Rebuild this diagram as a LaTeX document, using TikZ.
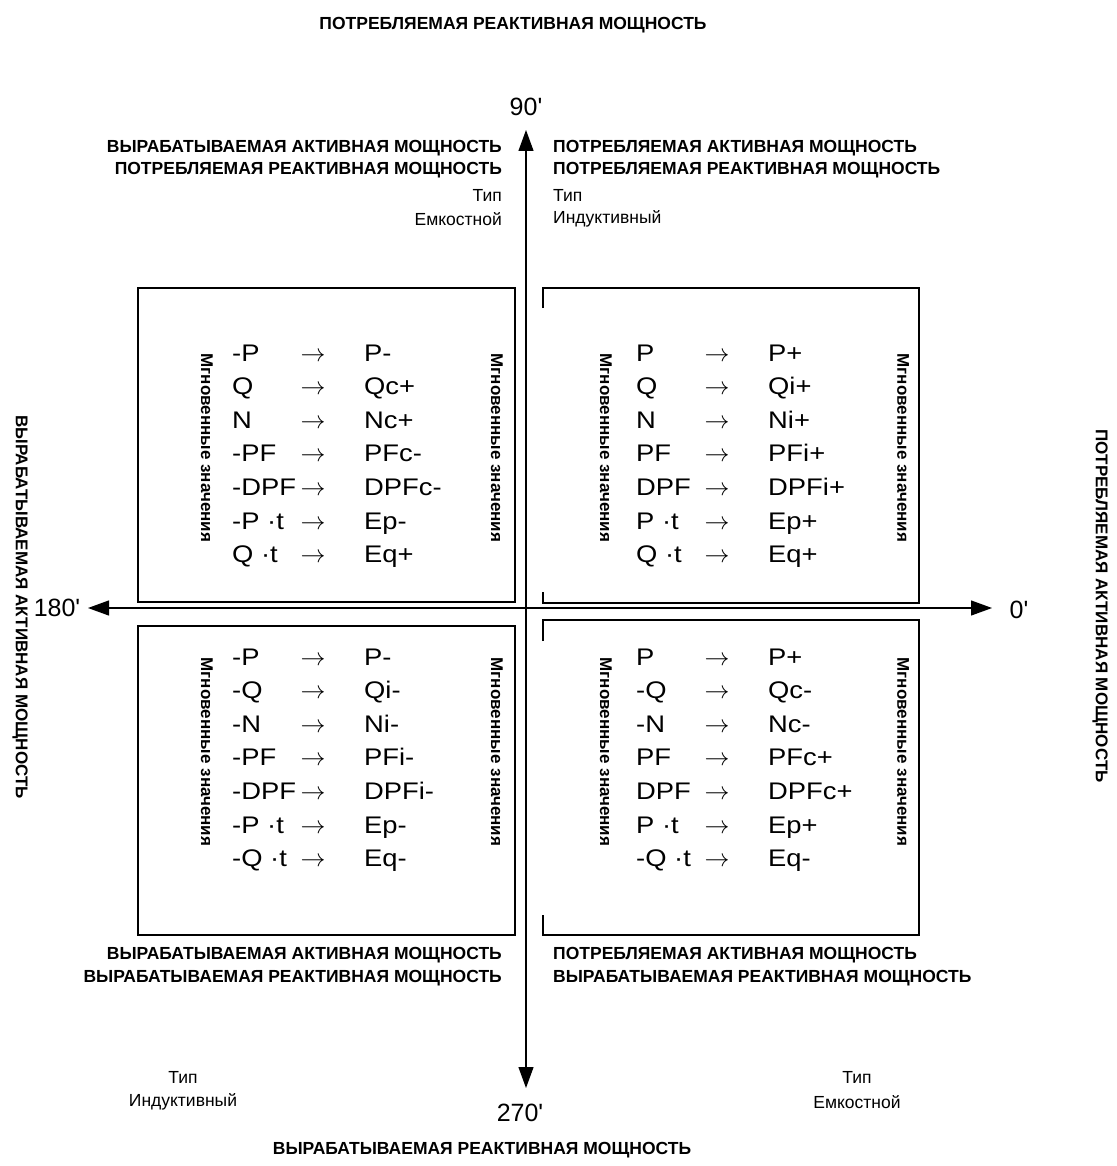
\documentclass[tikz,border=0pt]{standalone}
\usepackage{fontspec}
\setmainfont{Liberation Sans}
\usetikzlibrary{arrows.meta}

\tikzset{
	quadbox/.style={line width=1.4pt},
	axisline/.style={line width=1.2pt, -{Triangle[length=21pt,width=15pt]}},
	head/.style={font=\bfseries\fontsize{17.5}{21}\selectfont, inner sep=0pt},
	sidehead/.style={font=\bfseries\fontsize{17}{21}\selectfont, inner sep=0pt, rotate=-90},
	kind/.style={font=\fontsize{17.5}{21}\selectfont, inner sep=0pt},
	degree/.style={font=\fontsize{25}{29}\selectfont, inner sep=0pt},
	vallist/.style={font=\fontsize{24}{33.6}\selectfont\addfontfeature{FakeStretch=1.14}, inner sep=0pt, anchor=base west},
	instant/.style={font=\bfseries\fontsize{17}{20}\selectfont, rotate=-90, inner sep=0pt},
}
\newcommand{\vallines}[1]{\begin{tabular}[t]{@{}p{68.5pt}@{}p{63.5pt}@{}l@{}}#1\end{tabular}}

\begin{document}
\begin{tikzpicture}[x=1pt,y=-1pt]
		\useasboundingbox (0,0) rectangle (1116,1166);

		% axes
		\coordinate (O) at (526,608);
		\coordinate (up) at (526,130);
		\coordinate (down) at (526,1088);
		\coordinate (west) at (88,608);
		\coordinate (east) at (992,608);

		\draw[axisline] (O) -- (up);
		\draw[axisline] (O) -- (down);
		\draw[axisline] (O) -- (west);
		\draw[axisline] (O) -- (east);

		\node[degree] (deg90) at (526,107) {90\textquotesingle};
		\node[degree] (deg0) at (1019,610) {0\textquotesingle};
		\node[degree] (deg180) at (57,608) {180\textquotesingle};
		\node[degree] (deg270) at (520,1113) {270\textquotesingle};

		% outer titles
		\node[head] (titletop) at (513,25) {ПОТРЕБЛЯЕМАЯ РЕАКТИВНАЯ МОЩНОСТЬ};
		\node[head] (titlebottom) at (482,1150) {ВЫРАБАТЫВАЕМАЯ РЕАКТИВНАЯ МОЩНОСТЬ};
		\node[sidehead] (titleleft) at (20,607) {ВЫРАБАТЫВАЕМАЯ АКТИВНАЯ МОЩНОСТЬ};
		\node[sidehead] (titleright) at (1100,606) {ПОТРЕБЛЯЕМАЯ АКТИВНАЯ МОЩНОСТЬ};

		% quadrant headings
		\node[head, anchor=east] (hTLa) at (502,148) {ВЫРАБАТЫВАЕМАЯ АКТИВНАЯ МОЩНОСТЬ};
		\node[head, anchor=east] (hTLb) at (502,170) {ПОТРЕБЛЯЕМАЯ РЕАКТИВНАЯ МОЩНОСТЬ};
		\node[kind, anchor=east] (kTLa) at (502,195) {Тип};
		\node[kind, anchor=east] (kTLb) at (502,219) {Емкостной};

		\node[head, anchor=west] (hTRa) at (553,148) {ПОТРЕБЛЯЕМАЯ АКТИВНАЯ МОЩНОСТЬ};
		\node[head, anchor=west] (hTRb) at (553,170) {ПОТРЕБЛЯЕМАЯ РЕАКТИВНАЯ МОЩНОСТЬ};
		\node[kind, anchor=west] (kTRa) at (553,195) {Тип};
		\node[kind, anchor=west] (kTRb) at (553,219) {Индуктивный};

		\node[head, anchor=east] (hBLa) at (502,955) {ВЫРАБАТЫВАЕМАЯ АКТИВНАЯ МОЩНОСТЬ};
		\node[head, anchor=east] (hBLb) at (502,978) {ВЫРАБАТЫВАЕМАЯ РЕАКТИВНАЯ МОЩНОСТЬ};
		\node[kind] (kBLa) at (183,1077) {Тип};
		\node[kind] (kBLb) at (183,1102) {Индуктивный};

		\node[head, anchor=west] (hBRa) at (553,955) {ПОТРЕБЛЯЕМАЯ АКТИВНАЯ МОЩНОСТЬ};
		\node[head, anchor=west] (hBRb) at (553,978) {ВЫРАБАТЫВАЕМАЯ РЕАКТИВНАЯ МОЩНОСТЬ};
		\node[kind] (kBRa) at (857,1077) {Тип};
		\node[kind] (kBRb) at (857,1102) {Емкостной};

		% boxes
		\draw[quadbox] (138,288) rectangle (515,602);
		\draw[quadbox] (138,626) rectangle (515,935);
		\draw[quadbox] (543,308) |- (919,288) |- (543,603) -- (543,592);
		\draw[quadbox] (543,641) |- (919,620) |- (543,935) -- (543,915);

		% instant values
		\node[instant] (iTLa) at (207,448) {Мгновенные значения};
		\node[instant] (iTLb) at (497,448) {Мгновенные значения};
		\node[instant] (iTRa) at (606,448) {Мгновенные значения};
		\node[instant] (iTRb) at (903,448) {Мгновенные значения};
		\node[instant] (iBLa) at (207,752) {Мгновенные значения};
		\node[instant] (iBLb) at (497,752) {Мгновенные значения};
		\node[instant] (iBRa) at (606,752) {Мгновенные значения};
		\node[instant] (iBRb) at (903,752) {Мгновенные значения};

		\node[vallist] (valTL) at (232,361) {\vallines{
			-P & $\rightarrow$ & P-\\
			Q & $\rightarrow$ & Qc+\\
			N & $\rightarrow$ & Nc+\\
			-PF & $\rightarrow$ & PFc-\\
			-DPF & $\rightarrow$ & DPFc-\\
			-P ·t & $\rightarrow$ & Ep-\\
			Q ·t & $\rightarrow$ & Eq+}};

		\node[vallist] (valTR) at (636,361) {\vallines{
			P & $\rightarrow$ & P+\\
			Q & $\rightarrow$ & Qi+\\
			N & $\rightarrow$ & Ni+\\
			PF & $\rightarrow$ & PFi+\\
			DPF & $\rightarrow$ & DPFi+\\
			P ·t & $\rightarrow$ & Ep+\\
			Q ·t & $\rightarrow$ & Eq+}};

		\node[vallist] (valBL) at (232,665) {\vallines{
			-P & $\rightarrow$ & P-\\
			-Q & $\rightarrow$ & Qi-\\
			-N & $\rightarrow$ & Ni-\\
			-PF & $\rightarrow$ & PFi-\\
			-DPF & $\rightarrow$ & DPFi-\\
			-P ·t & $\rightarrow$ & Ep-\\
			-Q ·t & $\rightarrow$ & Eq-}};

		\node[vallist] (valBR) at (636,665) {\vallines{
			P & $\rightarrow$ & P+\\
			-Q & $\rightarrow$ & Qc-\\
			-N & $\rightarrow$ & Nc-\\
			PF & $\rightarrow$ & PFc+\\
			DPF & $\rightarrow$ & DPFc+\\
			P ·t & $\rightarrow$ & Ep+\\
			-Q ·t & $\rightarrow$ & Eq-}};
	\end{tikzpicture}
\end{document}
